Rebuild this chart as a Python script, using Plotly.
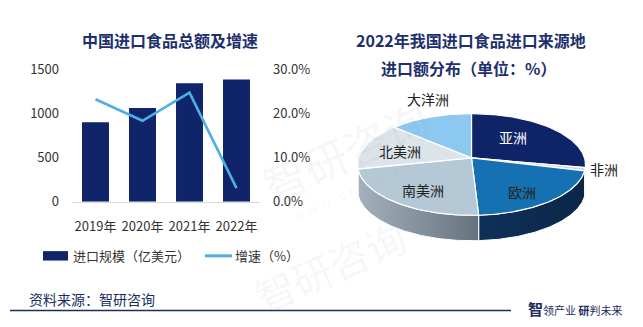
import numpy as np
import plotly.graph_objects as go

# ---- data ----
years = ["2019年", "2020年", "2021年", "2022年"]
import_value = [903, 1065, 1347, 1390]      # 进口规模（亿美元）
growth_rate = [23.3, 18.4, 24.8, 3.1]       # 增速（%）

regions = ["亚洲", "非洲", "欧洲", "南美洲", "北美洲", "大洋洲"]
region_share = [26.0, 1.0, 22.0, 24.5, 14.6, 11.9]   # 2022年进口额占比（%）

# ---- styling ----
W, H = 643, 327
NAVY = "#10246A"
SKY = "#4FAEE6"
TITLE_C = "#1D2F6C"
TEXT = "#333333"
FONT = "Noto Sans CJK SC"

top_colors = ["#0E2466", "#C9D8EC", "#1571B1", "#B5C8D6", "#DCE4EA", "#8CC8EF"]
side_colors = [
    ["#0A1C4F", "#0A1C4F"],
    ["#9FB3CC", "#9FB3CC"],
    ["#10305A", "#0B2747"],
    ["#A4B1BD", "#66727E"],
    ["#C3CBD2", "#B5BEC6"],
    ["#7FB5D8", "#7FB5D8"],
]


def pyf(row):
    """pixel row -> paper y"""
    return 1 - row / H


def pxf(col):
    """pixel column -> paper x"""
    return col / W


def note(x, y, text, size, color, xanchor="center", **kw):
    return dict(x=pxf(x), y=pyf(y), xref="paper", yref="paper", text=text,
                showarrow=False, xanchor=xanchor, yanchor="middle",
                font=dict(family=FONT, size=size, color=color), **kw)


fig = go.Figure()

# ---- left: bars + growth line ----
fig.add_trace(go.Bar(
    x=years, y=import_value, marker=dict(color=NAVY, line=dict(width=0)),
    width=0.574, xaxis="x", yaxis="y", showlegend=False, hoverinfo="x+y",
))
fig.add_trace(go.Scatter(
    x=years, y=growth_rate, mode="lines", line=dict(color=SKY, width=2.6),
    xaxis="x", yaxis="y3", showlegend=False,
))

# ---- right: 3D-style pie built from polygons ----
CX, CY = 471.5, 164.0      # ellipse centre
APEX_Y = 157.0             # where the slices meet
RX, RY = 114.0, 54.0
DEPTH = 27.0


def rim(theta_deg):
    t = np.radians(theta_deg)
    return CX + RX * np.sin(t), CY - RY * np.cos(t)


bounds = np.concatenate([[0.0], np.cumsum(region_share)]) / sum(region_share) * 360.0

# side walls (front half only, 90°..270°)
for i, name in enumerate(regions):
    a, b = max(bounds[i], 90.0), min(bounds[i + 1], 270.0)
    if b <= a:
        continue
    th = np.linspace(a, b, max(int((b - a) * 2), 4))
    xs, ys = rim(th)
    px = np.concatenate([xs, xs[::-1], xs[:1]])
    py = np.concatenate([ys, ys[::-1] + DEPTH, ys[:1]])
    fig.add_trace(go.Scatter(
        x=px, y=py, mode="lines", fill="toself",
        line=dict(color="white", width=1),
        fillcolor=side_colors[i][0],
        fillgradient=dict(type="horizontal",
                          colorscale=[[0, side_colors[i][0]], [1, side_colors[i][1]]]),
        xaxis="x2", yaxis="y2", showlegend=False, hoverinfo="skip",
    ))

# top faces
for i, name in enumerate(regions):
    a, b = bounds[i], bounds[i + 1]
    th = np.linspace(a, b, max(int((b - a) * 2), 4))
    xs, ys = rim(th)
    px = np.concatenate([[CX], xs, [CX]])
    py = np.concatenate([[APEX_Y], ys, [APEX_Y]])
    fig.add_trace(go.Scatter(
        x=px, y=py, mode="lines", fill="toself",
        line=dict(color="white", width=1.2), fillcolor=top_colors[i],
        xaxis="x2", yaxis="y2", showlegend=False,
        name=name, text=f"{name} {region_share[i]}%", hoverinfo="text",
    ))

# slice labels
label_pos = {
    "亚洲": (513, 135, "white"),
    "非洲": (604, 169, "#222222"),
    "欧洲": (522, 193, "#222222"),
    "南美洲": (423, 191, "#222222"),
    "北美洲": (400, 150, "#222222"),
    "大洋洲": (428, 95, "#222222"),
}
annotations = []
for name in regions:
    x, y, c = label_pos[name]
    annotations.append(dict(
        x=x, y=y, xref="x2", yref="y2", text=name, showarrow=False,
        xanchor="center", yanchor="middle",
        font=dict(family=FONT, size=14, color=c),
    ))

# ---- watermarks ----
wm_color = "rgba(150,160,180,0.09)"
annotations.append(note(345, 150, "智研咨询", 44, wm_color, textangle=-24))
annotations.append(note(359, 188, "w w w . c h y x x . c o m", 14, wm_color, textangle=-24))
annotations.append(note(330, 272, "智研咨询", 40, wm_color, textangle=-24))

# ---- titles ----
annotations += [
    note(170, 32, "<b>中国进口食品总额及增速</b>", 16, TITLE_C),
    note(471, 32, "<b>2022年我国进口食品进口来源地</b>", 16, TITLE_C),
    note(468, 62, "<b>进口额分布（单位：%）</b>", 16, TITLE_C),
]

# ---- custom legend ----
annotations += [
    note(71, 261, "进口规模（亿美元）", 13, TEXT, xanchor="left"),
    note(233, 261, "增速（%）", 13, TEXT, xanchor="left"),
]

# ---- footer ----
annotations += [
    note(27, 307, "资料来源：智研咨询", 14, "#1B2D5E", xanchor="left"),
    note(526, 317, "<b><span style='font-size:15px'>智</span></b>领产业 <b>研</b>判未来",
         11, "#1B2D5E", xanchor="left"),
]

shapes = [
    dict(type="rect", xref="paper", yref="paper",
         x0=pxf(43), x1=pxf(68), y0=pyf(266), y1=pyf(256),
         fillcolor=NAVY, line=dict(width=0)),
    dict(type="line", xref="paper", yref="paper",
         x0=pxf(205), x1=pxf(232), y0=pyf(261), y1=pyf(261),
         line=dict(color=SKY, width=3)),
    dict(type="line", xref="paper", yref="paper",
         x0=pxf(10), x1=pxf(511), y0=pyf(319), y1=pyf(319),
         line=dict(color="#1B2D5E", width=1.5)),
]

fig.update_layout(
    width=W, height=H, margin=dict(l=0, r=0, t=0, b=0),
    paper_bgcolor="white", plot_bgcolor="rgba(0,0,0,0)",
    font=dict(family=FONT, size=13, color=TEXT),
    showlegend=False, bargap=0.43,
    xaxis=dict(domain=[pxf(72), pxf(260)], anchor="y", type="category",
               showline=True, linecolor="#D9D9D9", linewidth=1,
               ticks="", showgrid=False, zeroline=False,
               ticklabelstandoff=13,
               tickfont=dict(family=FONT, size=13, color=TEXT)),
    yaxis=dict(domain=[pyf(203.5), pyf(63.5)], range=[0, 1500], dtick=500,
               anchor="x", showgrid=False, zeroline=False, showline=False,
               ticks="", ticklabelstandoff=12,
               tickfont=dict(family=FONT, size=13, color=TEXT)),
    yaxis3=dict(overlaying="y", side="right", anchor="x", range=[0, 30],
                tickvals=[0, 10, 20, 30],
                ticktext=["0.0%", "10.0%", "20.0%", "30.0%"],
                showgrid=False, zeroline=False, showline=False, ticks="",
                ticklabelstandoff=12,
                tickfont=dict(family=FONT, size=13, color=TEXT)),
    xaxis2=dict(domain=[pxf(330), 1], range=[330, 643], anchor="y2",
                visible=False, fixedrange=True),
    yaxis2=dict(domain=[0, 1], range=[327, 0], anchor="x2",
                visible=False, fixedrange=True),
    annotations=annotations, shapes=shapes,
)

fig.write_html("out.html")
